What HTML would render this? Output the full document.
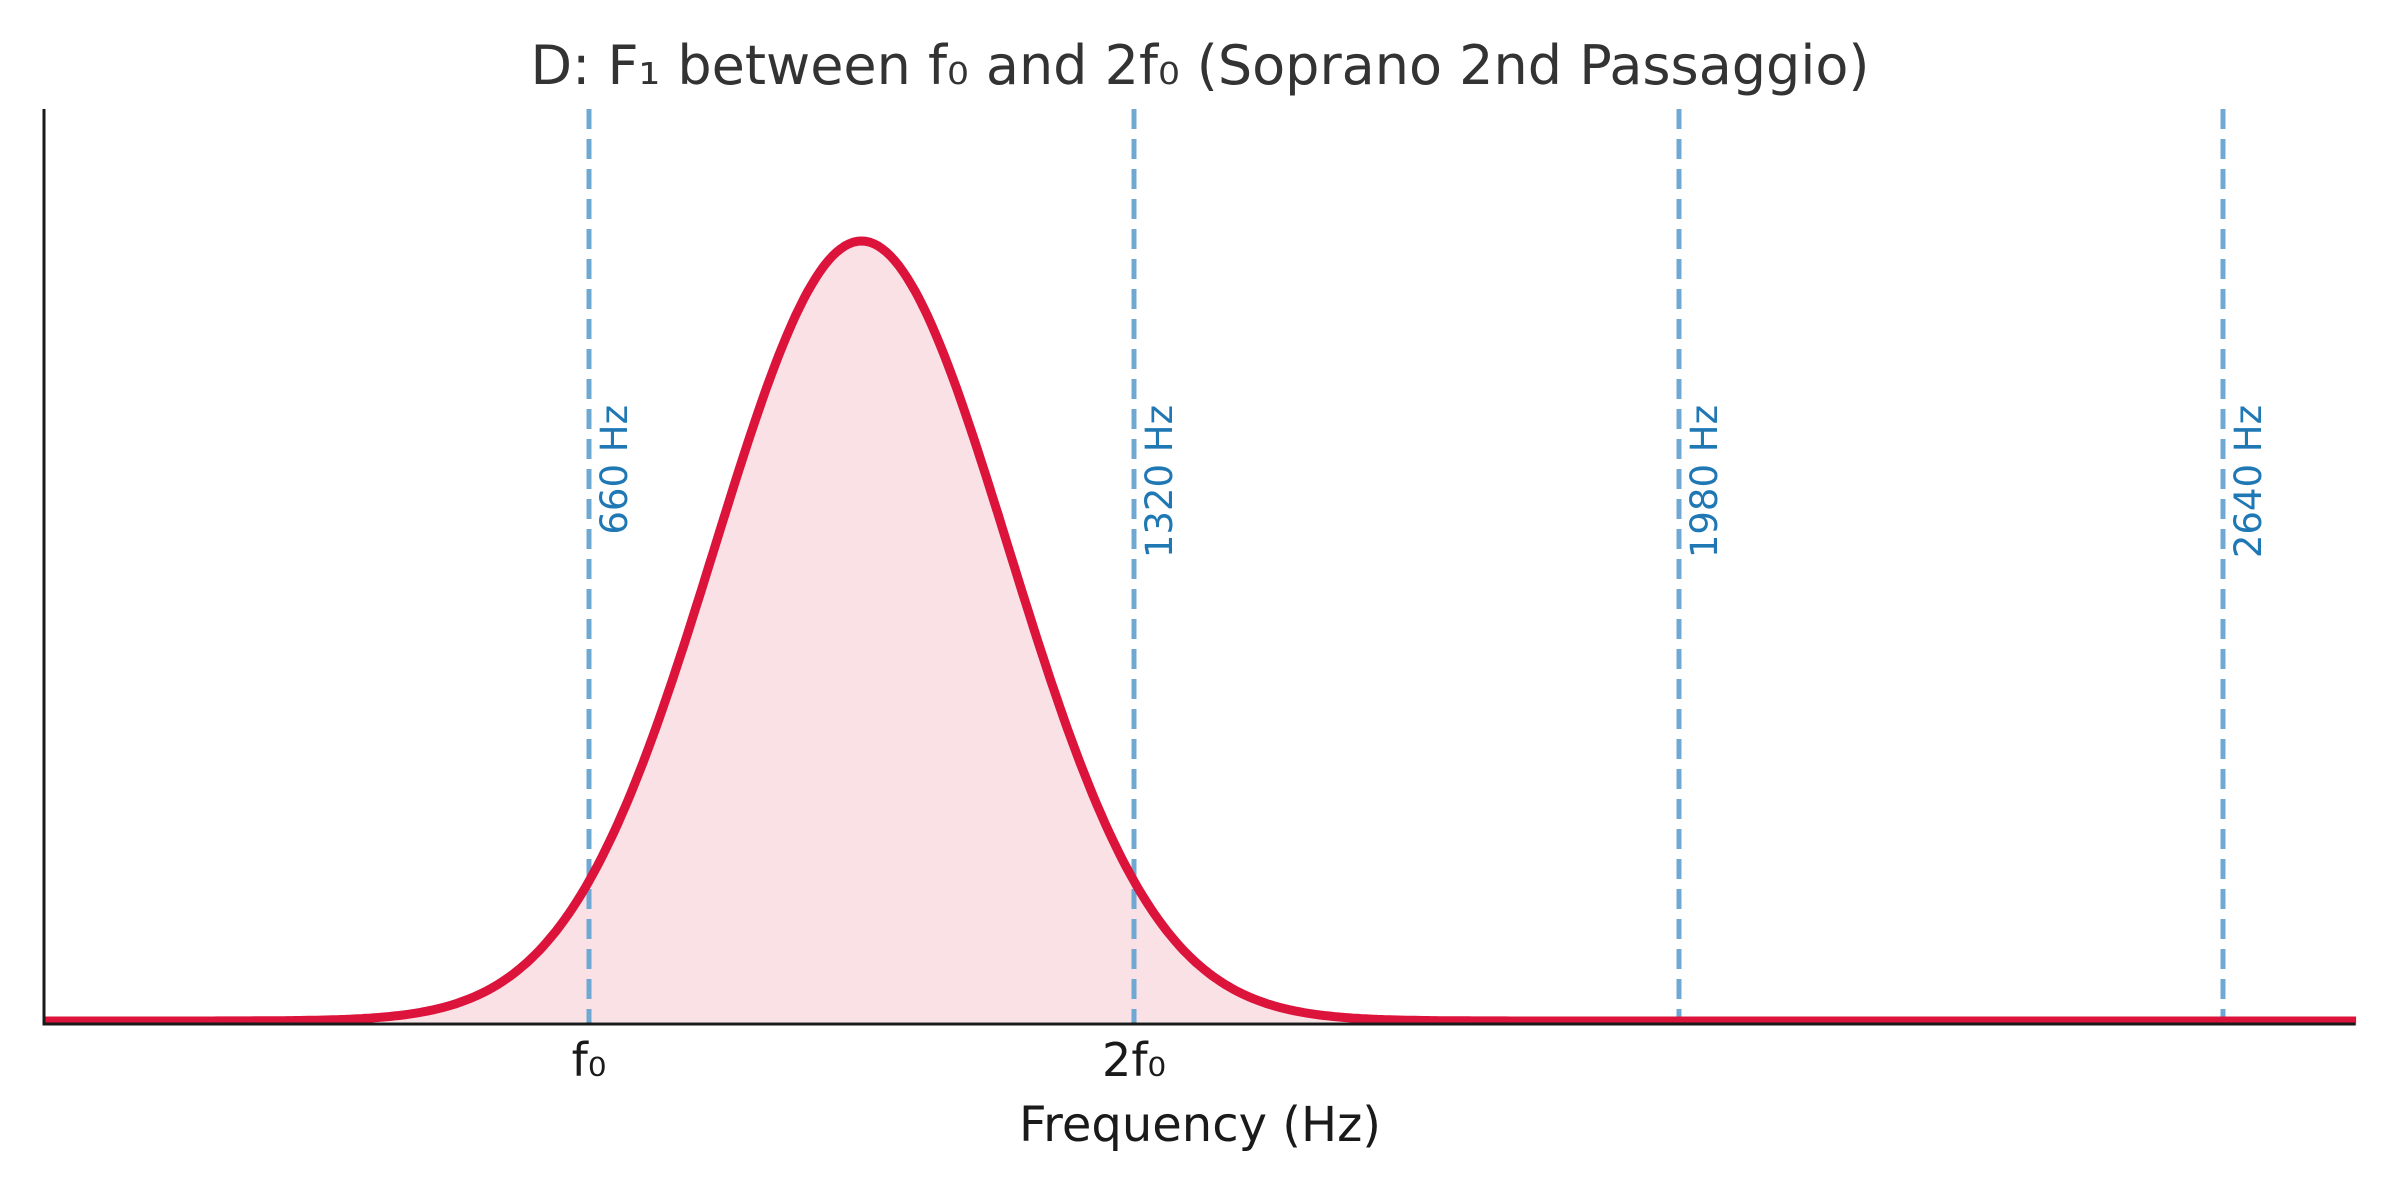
<!DOCTYPE html>
<html><head><meta charset="utf-8"><style>
html,body{margin:0;padding:0;background:#fff;}
svg{display:block;font-family:"DejaVu Sans","Liberation Sans",sans-serif;}
</style></head><body>
<svg id="s" width="2400" height="1200" viewBox="0 0 2400 1200" xmlns="http://www.w3.org/2000/svg">
<rect width="2400" height="1200" fill="#fff"/>
<path id="fill" fill="#f9e1e6" stroke="none"/>
<g stroke="#6fa8d2" stroke-width="5" stroke-dasharray="20,10">
<line x1="589" y1="109" x2="589" y2="1024"/>
<line x1="1134" y1="109" x2="1134" y2="1024"/>
<line x1="1679" y1="109" x2="1679" y2="1024"/>
<line x1="2223" y1="109" x2="2223" y2="1024"/>
</g>
<path id="curve" fill="none" stroke="#dc143c" stroke-width="9" stroke-linejoin="round"/>
<g fill="#1f77b4" font-size="37">
<text transform="translate(627,405) rotate(-90)" text-anchor="end">660 Hz</text>
<text transform="translate(1172,405) rotate(-90)" text-anchor="end">1320 Hz</text>
<text transform="translate(1717,405) rotate(-90)" text-anchor="end">1980 Hz</text>
<text transform="translate(2261,405) rotate(-90)" text-anchor="end">2640 Hz</text>
</g>
<line x1="44" y1="109" x2="44" y2="1025.5" stroke="#1a1a1a" stroke-width="3"/>
<line x1="42.5" y1="1024" x2="2355" y2="1024" stroke="#1a1a1a" stroke-width="3"/>
<text x="1200" y="84" font-size="54" fill="#333" text-anchor="middle">D: F₁ between f₀ and 2f₀ (Soprano 2nd Passaggio)</text>
<g font-size="46" fill="#1a1a1a" text-anchor="middle">
<text x="589" y="1076">f₀</text>
<text x="1134" y="1076">2f₀</text>
</g>
<text x="1200" y="1141" font-size="48" fill="#1a1a1a" text-anchor="middle">Frequency (Hz)</text>
</svg>
<script>
var pts=[];
for(var f=0;f<=2800;f+=5){
 var x=44+f/660*545;
 var v=Math.exp(-Math.pow(f-990,2)/(2*178*178));
 var y=1021-780*v;
 pts.push(x.toFixed(1)+","+y.toFixed(1));
}
document.getElementById("curve").setAttribute("d","M"+pts.join(" L"));
document.getElementById("fill").setAttribute("d","M44,1022 L"+pts.join(" L")+" L2355,1022 Z");
</script>
</body></html>
